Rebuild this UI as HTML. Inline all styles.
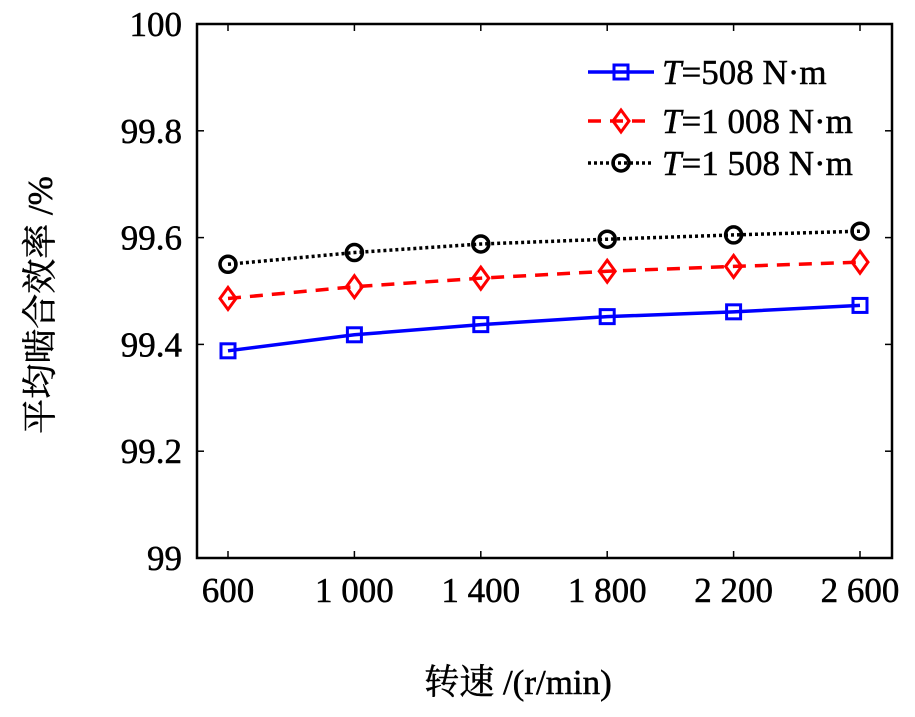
<!DOCTYPE html>
<html><head><meta charset="utf-8"><style>
body{margin:0;background:#fff;}
svg text{font-family:"Liberation Serif","Noto Serif CJK SC",serif;fill:#000;stroke:#000;stroke-width:0.5;}
</style></head><body>
<svg width="915" height="712" xmlns="http://www.w3.org/2000/svg">
<g id="plot"></g>
</svg>
<script>
const categories=[600,1000,1400,1800,2200,2600];
const xTickLabels=["600","1 000","1 400","1 800","2 200","2 600"];
const yTicks=[99,99.2,99.4,99.6,99.8,100];
const yTickLabels=["99","99.2","99.4","99.6","99.8","100"];
const seriesT508=[99.388,99.418,99.437,99.452,99.461,99.473];
const seriesT1008=[99.486,99.508,99.524,99.537,99.546,99.554];
const seriesT1508=[99.55,99.572,99.588,99.597,99.605,99.612];
const L=197,R=892,T=24,B=558;
const x=v=>228+(v-600)/2000*(860-228);
const y=v=>B-(v-99)/1*(B-T);
const NS="http://www.w3.org/2000/svg";
const g=document.getElementById('plot');
function mk(tag,attrs,parent){const e=document.createElementNS(NS,tag);for(const k in attrs)e.setAttribute(k,attrs[k]);(parent||g).appendChild(e);return e;}
let fr=mk('rect',{x:L,y:T,width:R-L,height:B-T,fill:'none',stroke:'#000','stroke-width':2.5});


categories.forEach((c,i)=>{
 let t=mk('line',{x1:x(c),x2:x(c),y1:B,y2:B-7,stroke:'#000','stroke-width':1.5});
 
 
 let t2=mk('line',{x1:x(c),x2:x(c),y1:T,y2:T+7,stroke:'#000','stroke-width':1.5});
 
 
 let l=mk('text',{x:x(c),y:602,'text-anchor':'middle','font-size':35});
 l.textContent=xTickLabels[i];
 
 
});
yTicks.forEach((v,i)=>{
 let t=mk('line',{x1:L,x2:L+7,y1:y(v),y2:y(v),stroke:'#000','stroke-width':1.5});
 
 
 let t2=mk('line',{x1:R,x2:R-7,y1:y(v),y2:y(v),stroke:'#000','stroke-width':1.5});
 
 
 let l=mk('text',{x:182,y:y(v)+12,'text-anchor':'end','font-size':35});
 l.textContent=yTickLabels[i];
 
 
});
let xt=mk('text',{x:518,y:694,'text-anchor':'middle','font-size':35});
xt.textContent='转速 /(r/min)';


let yt=mk('text',{x:0,y:0,'text-anchor':'middle','font-size':35,transform:'translate(52,305) rotate(-90)'});
yt.textContent='平均啮合效率 /%';


function marker(type,cx,cy,color,parent){
 if(type==='sq')return mk('rect',{x:cx-7,y:cy-7,width:14,height:14,fill:'none',stroke:color,'stroke-width':3},parent);
 if(type==='di')return mk('path',{d:`M${cx} ${cy-11}L${cx+8} ${cy}L${cx} ${cy+11}L${cx-8} ${cy}Z`,fill:'none',stroke:color,'stroke-width':3},parent);
 return mk('circle',{cx:cx,cy:cy,r:8,fill:'none',stroke:color,'stroke-width':3.5},parent);
}
const series=[
 {d:seriesT508,c:'#0000ff',dash:'',m:'sq',n:'series-t508',lab:'=508 N·m',ly:72},
 {d:seriesT1008,c:'#ff0000',dash:'13 9',m:'di',n:'series-t1008',lab:'=1 008 N·m',ly:121},
 {d:seriesT1508,c:'#000',dash:'3 3',m:'ci',n:'series-t1508',lab:'=1 508 N·m',ly:163}
];
series.forEach(s=>{
 const sg=mk('g',{});
 
 
 let p=mk('polyline',{points:s.d.map((v,i)=>x(categories[i])+','+y(v)).join(' '),fill:'none',stroke:s.c,'stroke-width':3.5,'stroke-dasharray':s.dash},sg);
 
 
 s.d.forEach((v,i)=>{
  let m=marker(s.m,x(categories[i]),y(v),s.c,sg);
  
  
 });
 const lg=mk('g',{});
 
 
 mk('line',{x1:588,x2:654,y1:s.ly,y2:s.ly,stroke:s.c,'stroke-width':3.5,'stroke-dasharray':s.dash},lg);
 marker(s.m,621,s.ly,s.c,lg);
 let tx=mk('text',{x:662,y:s.ly+12,'font-size':35},lg);
 const it=document.createElementNS(NS,'tspan');it.setAttribute('font-style','italic');it.textContent='T';tx.appendChild(it);
 tx.appendChild(document.createTextNode(s.lab));
});
</script>
</body></html>
